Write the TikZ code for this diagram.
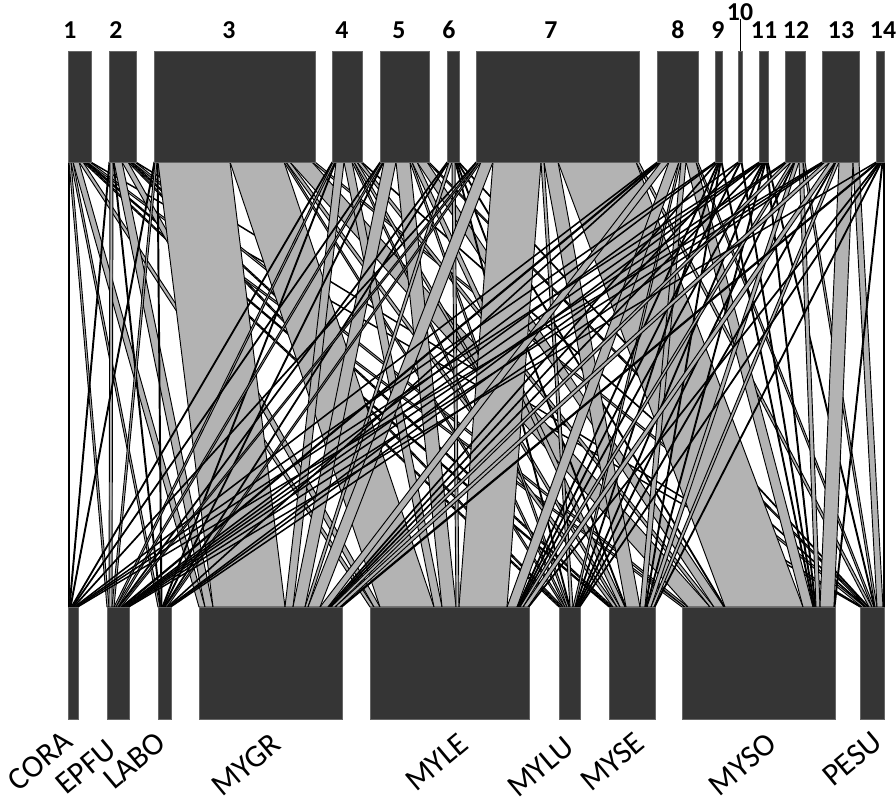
\documentclass[tikz,border=0pt]{standalone}
\usepackage{fontspec}
\setmainfont{Carlito}
\definecolor{boxdark}{RGB}{53,53,53}
\definecolor{linkgray}{RGB}{179,179,179}
% left edges of the upper (1-14) and lower (CORA-PESU) boxes
\def\toplefts{{68,109,154,332,380,447,476,657,715,738,759,785,822,876}}
\def\botlefts{{68,107,158,199,370,559,609,682,860}}
\newcommand{\upbox}[2]{\fill[boxdark,draw=black!60,line width=0.4pt] (#1,51) rectangle ++(#2,111);}
\newcommand{\lowbox}[2]{\fill[boxdark,draw=black!60,line width=0.4pt] (#1,607) rectangle ++(#2,112);}

\begin{document}
\begin{tikzpicture}[x=0.3mm,y=-0.3mm,
  flow/.style={fill=linkgray,draw=black,line width=0.8pt,line join=round},
  toplab/.style={font=\fontsize{22}{22}\selectfont\bfseries,inner sep=0pt},
  botlab/.style={font=\fontsize{27}{27}\selectfont,inner sep=0pt,rotate=40,anchor=base east}]
\useasboundingbox (0,0) rectangle (896,803);
% interaction links, one row per upper box
\foreach \j in {0,...,8}{\expandafter\xdef\csname boff\j\endcsname{0}}
\foreach \row [count=\i from 0] in {
  {1,2,2,6,4,2,2,3,1},
  {1,3,1,8,6,2,2,3,1},
  {1,2,1,72,54,2,4,22,3},
  {1,2,1,8,8,2,3,4,1},
  {1,2,1,12,14,2,5,10,2},
  {0,1,1,3,3,1,1,1,1},
  {1,2,2,12,48,3,14,78,3},
  {1,2,1,8,10,2,5,10,2},
  {1,1,0,1,1,1,1,1,0},
  {0,1,0,1,1,0,0,1,0},
  {1,1,1,1,1,1,1,1,1},
  {0,1,1,4,3,1,4,4,2},
  {1,1,1,5,5,1,3,14,6},
  {0,1,0,2,1,1,1,1,1}}{
  \xdef\topoff{0}
  \foreach \w [count=\j from 0] in \row{
    \pgfmathsetmacro\xa{\toplefts[\i]+\topoff}
    \pgfmathsetmacro\xc{\botlefts[\j]+\csname boff\j\endcsname}
    \ifnum\w>0
      \draw[flow] (\xa,162) -- (\xa+\w,162) -- (\xc+\w,607) -- (\xc,607) -- cycle;
    \fi
    \pgfmathsetmacro\tmp{\topoff+\w}\xdef\topoff{\tmp}
    \pgfmathsetmacro\tmp{\csname boff\j\endcsname+\w}
    \expandafter\xdef\csname boff\j\endcsname{\tmp}
  }
}
% boxes
\foreach \l/\wd in {68/23,109/27,154/161,332/30,380/49,447/12,476/163,657/41,715/7,738/4,759/9,785/20,822/37,876/8}
  {\upbox{\l}{\wd}}
\foreach \l/\wd in {68/10,107/22,158/13,199/143,370/159,559/21,609/46,682/153,860/24}
  {\lowbox{\l}{\wd}}
% labels
\foreach \n/\x in {1/70,2/116,3/229,4/342,5/399,6/449,7/551,8/678,9/718,11/764,12/796,13/841,14/883}
  {\node[toplab] (top\n) at (\x,30) {\n};}
\node[toplab] (top10) at (740,12) {10};
\coordinate (box10) at (740,51);
\draw[line width=0.5pt] (top10.south) ++(0,-2) -- (box10);
\foreach \n/\x/\y in {CORA/75/745,EPFU/118/753,LABO/168/746,MYGR/283/747,MYLE/471/747,MYLU/576/750,MYSE/647/746,MYSO/779/747,PESU/884/745}
  {\node[botlab] (\n) at (\x,\y) {\n};}
\end{tikzpicture}
\end{document}
